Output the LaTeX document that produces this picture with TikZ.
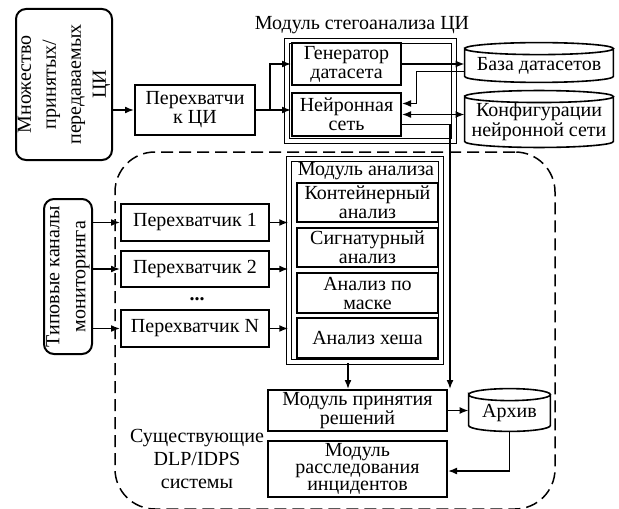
\documentclass[tikz,border=0pt]{standalone}
\usepackage{fontspec}
\setmainfont{Liberation Serif}
\usetikzlibrary{arrows.meta,calc}
\tikzset{
	blk/.style={draw, line width=1pt, align=center, inner sep=0pt, font=\fontsize{10}{9.5}\selectfont},
	rblk/.style={blk, rounded corners=5pt, rotate=90, font=\fontsize{10}{12.5}\selectfont},
	frm/.style={draw, double, double distance=1.6pt, line width=0.75pt, inner sep=0pt},
	stor/.style={align=center, inner sep=0pt, font=\fontsize{10}{10}\selectfont},
	sysbox/.style={draw, dash pattern=on 6pt off 3pt, line width=0.75pt, rounded corners=20pt, inner sep=0pt},
	lnk/.style={line width=0.8pt, -{Latex[length=4.5pt,width=3.5pt]}},
	lnkk/.style={line width=0.8pt, {Latex[length=4.5pt,width=3.5pt]}-{Latex[length=4.5pt,width=3.5pt]}}
}
\newcommand{\Block}[3][]{\node[blk,#1] (#2) {#3};}
\newcommand{\RBlock}[3][]{\node[rblk,#1] (#2) {#3};}
\newcommand{\Frame}[2][]{\node[frm,#1] (#2) {};}
\newcommand{\Store}[3][]{\node[stor,#1] (#2) {#3};
	\draw[line width=0.8pt] let \p1=(#2.west), \p2=(#2.east) in ([yshift=3pt]#2.north west) arc[start angle=180, end angle=-180, x radius={0.5*(\x2-\x1)}, y radius=3pt] -- (#2.south west) arc[start angle=180, end angle=360, x radius={0.5*(\x2-\x1)}, y radius=3pt] -- ([yshift=3pt]#2.north east);}

\begin{document}
\begin{tikzpicture}[x=0.5pt, y=-0.5pt]
\useasboundingbox (0,0) rectangle (619,508);
\node[sysbox, minimum width=220pt, minimum height=178.5pt] (sys) at (335,330.5) {};
	\RBlock[at={(64,84.5)}, minimum width=75.5pt, minimum height=48pt]{src}{Множество\\принятых/\\передаваемых\\ЦИ}
	\Block[at={(195,110)}, minimum width=60pt, minimum height=25pt]{icpt}{Перехватчи\\к ЦИ}
	\Frame[at={(370.5,91)}, minimum width=83.5pt, minimum height=50pt]{stego}
	\node[font=\fontsize{10}{10}\selectfont] (stegotitle) at (362,25) {Модуль стегоанализа ЦИ};
	\Block[at={(346.5,64)}, minimum width=54.5pt, minimum height=21pt]{gen}{Генератор\\датасета}
	\Block[at={(346.5,114.5)}, minimum width=54.5pt, minimum height=21.5pt]{nn}{Нейронная\\сеть}
	\Store[at={(539,65.5)}, minimum width=74pt, minimum height=10.5pt]{base}{База датасетов}
	\Store[at={(539,122)}, minimum width=74pt, minimum height=15pt]{conf}{Конфигурации\\нейронной сети}
	\RBlock[at={(68,276.5)}, minimum width=77.5pt, minimum height=24pt, font=\fontsize{10}{13}\selectfont]{chan}{Типовые каналы\\мониторинга}
	\Block[at={(195,222.5)}, minimum width=74pt, minimum height=18.5pt]{int1}{Перехватчик 1}
	\Block[at={(195,269)}, minimum width=74pt, minimum height=18pt]{int2}{Перехватчик 2}
	\node[font=\bfseries] (dots) at (197,299) {...};
	\Block[at={(195,328.5)}, minimum width=74pt, minimum height=18.5pt]{intN}{Перехватчик N}
	\Frame[at={(365,260.5)}, minimum width=76pt, minimum height=101.5pt]{ana}
	\node[font=\fontsize{10}{10}\selectfont] (anatitle) at (366,171) {Модуль анализа};
	\Block[at={(367.5,202.5)}, minimum width=70.5pt, minimum height=19.5pt, line width=1.2pt]{cont}{Контейнерный\\анализ}
	\Block[at={(367.5,247.5)}, minimum width=70.5pt, minimum height=19.5pt, line width=1.2pt]{sig}{Сигнатурный\\анализ}
	\Block[at={(367.5,293)}, minimum width=70.5pt, minimum height=20pt, line width=1.2pt]{mask}{Анализ по\\маске}
	\Block[at={(367.5,338)}, minimum width=70.5pt, minimum height=20pt, line width=1.2pt]{hash}{Анализ хеша}
	\Block[at={(357.5,410.5)}, minimum width=89.5pt, minimum height=20.5pt]{mp}{Модуль принятия\\решений}
	\Block[at={(357.5,469)}, minimum width=89.5pt, minimum height=28pt, font=\fontsize{10}{8.5}\selectfont]{mr}{Модуль\\расследования\\инцидентов}
	\Store[at={(509.5,413)}, minimum width=40.5pt, minimum height=12pt]{arch}{Архив}
	\node[align=center, font=\fontsize{10}{11.5}\selectfont] (exist) at (197,459) {Существующие\\DLP/IDPS\\системы};

	\coordinate (fork) at (270,110);
	\draw[lnk] (icpt.west -| src.south) -- (icpt.west);
	\draw[lnk] (icpt.east) -- (fork) |- (gen.west);
	\draw[lnk] (fork) -- (nn.west |- fork);
	\draw[lnk] (gen.east) -- (gen.east -| base.west);
	\draw[lnk] ([yshift=-3pt]base.west) -- ++(-48,0) |- ([yshift=5.5pt]nn.east);
	\draw[lnkk] (nn.east) -- (nn.east -| conf.west);
	\draw[lnk] ([yshift=-5pt]nn.east) -| ([xshift=1pt]mp.north east);
	\foreach \i in {1,2,N}{
		\draw[lnk] (int\i.west -| chan.south) -- (int\i.west);
		\draw[lnk] (int\i.east) -- (int\i.east -| ana.west);
	}
	\draw[lnk] ([xshift=-8.5pt]ana.south) -- ([xshift=-8.5pt]ana.south |- mp.north);
	\draw[lnk] (mp.east) -- (mp.east -| arch.west);
	\draw[lnk] ([yshift=-3pt]arch.south) |- ([yshift=-1pt]mr.east);

\end{tikzpicture}
\end{document}
